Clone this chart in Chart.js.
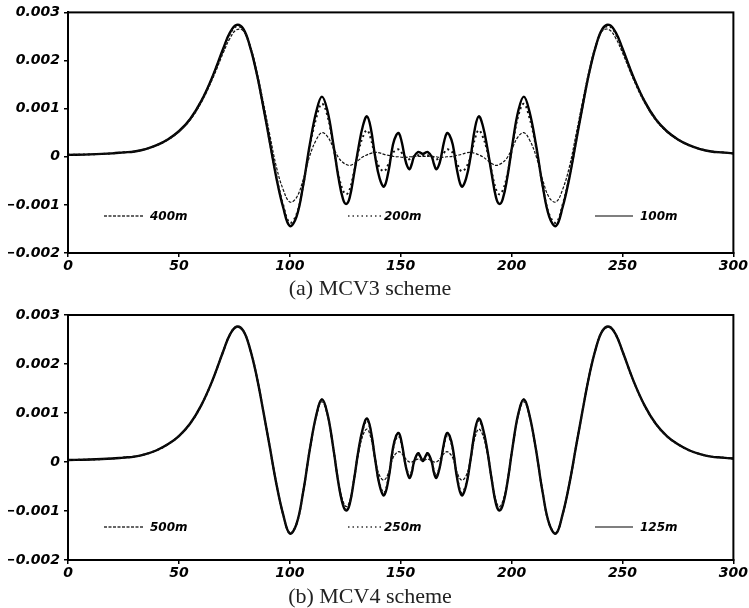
<!DOCTYPE html>
<html>
<head>
<meta charset="utf-8">
<script src="https://cdn.jsdelivr.net/npm/chart.js@4.4.1/dist/chart.umd.min.js"></script>
<style>
  html, body { margin: 0; padding: 0; background: #fff; }
  #wrap { position: relative; width: 749px; height: 608px; }
  canvas { position: absolute; left: 0; }
</style>
</head>
<body>
<div id="wrap">
  <canvas id="c1" width="749" height="300" style="top:0px"></canvas>
  <canvas id="c2" width="749" height="308" style="top:300px"></canvas>
</div>
<script>
// x positions (grid points along the domain)
const xs = [0,10,20,25,30,35,40,45,50,55,60,65,70,73,76,79,82,85,88,91,94,97,100,103,106,109,112,114.5,117,119.5,122,124,125.5,127,129,131,133,134.8,136.5,138.5,140.5,142.5,144.5,146.5,148,149.2,150.5,152,153,154,155,156,157.8,159,160,
161,162.2,164,165,166,167,168,169.5,170.8,172,173.5,175.5,177.5,179.5,181.5,183.5,185.2,187,189,191,193,194.5,196,198,200.5,203,205.5,208,211,214,217,220,223,226,229,232,235,238,241,244,247,250,255,260,265,270,275,280,285,290,295,300];

// values in units of 1e-3
// (a) MCV3 scheme
const mcv3_400m = [0.04,0.05,0.07,0.09,0.11,0.16,0.24,0.35,0.52,0.76,1.12,1.60,2.16,2.46,2.64,2.62,2.32,1.80,1.15,0.45,-0.22,-0.68,-0.94,-0.85,-0.48,0.02,0.36,0.50,0.42,0.20,-0.02,-0.12,-0.16,-0.18,-0.14,-0.07,0.00,0.04,0.07,0.09,0.08,0.05,0.03,0.01,0.00,0.00,-0.01,-0.01,-0.01,0.00,0.00,0.01,0.01,0.01,0.01,
0.01,0.01,0.01,0.00,0.00,-0.01,-0.01,-0.01,0.00,0.00,0.01,0.03,0.05,0.08,0.09,0.07,0.04,0.00,-0.07,-0.14,-0.18,-0.16,-0.12,-0.02,0.20,0.42,0.50,0.36,0.02,-0.48,-0.85,-0.94,-0.68,-0.22,0.45,1.15,1.80,2.32,2.62,2.64,2.46,2.16,1.60,1.12,0.76,0.52,0.35,0.24,0.16,0.11,0.09,0.07];
const mcv3_200m = [0.04,0.05,0.07,0.09,0.11,0.16,0.24,0.36,0.53,0.78,1.15,1.64,2.23,2.55,2.71,2.64,2.30,1.75,1.05,0.30,-0.42,-1.00,-1.37,-1.20,-0.60,0.20,0.82,1.10,0.85,0.25,-0.38,-0.70,-0.78,-0.68,-0.30,0.12,0.42,0.55,0.38,0.00,-0.22,-0.30,-0.15,0.08,0.14,0.15,0.08,0.00,-0.04,-0.05,-0.02,0.01,0.03,0.03,0.03,
0.03,0.03,0.01,-0.02,-0.05,-0.04,0.00,0.08,0.15,0.14,0.08,-0.15,-0.30,-0.22,0.00,0.38,0.55,0.42,0.12,-0.30,-0.68,-0.78,-0.70,-0.38,0.25,0.85,1.10,0.82,0.20,-0.60,-1.20,-1.37,-1.00,-0.42,0.30,1.05,1.75,2.30,2.64,2.71,2.55,2.23,1.64,1.15,0.78,0.53,0.36,0.24,0.16,0.11,0.09,0.07];
const mcv3_100m = [0.04,0.05,0.07,0.09,0.11,0.16,0.24,0.36,0.53,0.78,1.15,1.65,2.25,2.58,2.74,2.66,2.30,1.75,1.05,0.30,-0.45,-1.05,-1.44,-1.25,-0.60,0.25,0.95,1.25,0.95,0.30,-0.45,-0.88,-0.98,-0.85,-0.35,0.20,0.65,0.84,0.60,0.00,-0.45,-0.62,-0.30,0.25,0.45,0.49,0.30,-0.05,-0.20,-0.26,-0.15,0.00,0.10,0.08,0.06,
0.08,0.10,0.00,-0.15,-0.26,-0.20,-0.05,0.30,0.49,0.45,0.25,-0.30,-0.62,-0.45,0.00,0.60,0.84,0.65,0.20,-0.35,-0.85,-0.98,-0.88,-0.45,0.30,0.95,1.25,0.95,0.25,-0.60,-1.25,-1.44,-1.05,-0.45,0.30,1.05,1.75,2.30,2.66,2.74,2.58,2.25,1.65,1.15,0.78,0.53,0.36,0.24,0.16,0.11,0.09,0.07];

// (b) MCV4 scheme
const mcv4_500m = [0.04,0.05,0.07,0.09,0.11,0.16,0.24,0.36,0.53,0.78,1.15,1.65,2.26,2.60,2.76,2.68,2.32,1.76,1.05,0.30,-0.46,-1.07,-1.45,-1.26,-0.62,0.24,0.94,1.23,0.94,0.30,-0.42,-0.80,-0.91,-0.80,-0.35,0.18,0.55,0.67,0.50,0.05,-0.28,-0.37,-0.22,0.08,0.18,0.21,0.17,0.08,0.03,0.00,0.00,0.02,0.06,0.04,0.02,
0.04,0.06,0.02,0.00,0.00,0.03,0.08,0.17,0.21,0.18,0.08,-0.22,-0.37,-0.28,0.05,0.50,0.67,0.55,0.18,-0.35,-0.80,-0.91,-0.80,-0.42,0.30,0.94,1.23,0.94,0.24,-0.62,-1.26,-1.45,-1.07,-0.46,0.30,1.05,1.76,2.32,2.68,2.76,2.60,2.26,1.65,1.15,0.78,0.53,0.36,0.24,0.16,0.11,0.09,0.07];
const mcv4_250m = [0.04,0.05,0.07,0.09,0.11,0.16,0.24,0.36,0.53,0.78,1.15,1.65,2.26,2.60,2.76,2.68,2.32,1.76,1.05,0.30,-0.46,-1.07,-1.46,-1.27,-0.62,0.25,0.96,1.27,0.97,0.32,-0.44,-0.86,-0.97,-0.84,-0.34,0.24,0.67,0.85,0.62,0.05,-0.45,-0.63,-0.32,0.25,0.49,0.53,0.34,-0.02,-0.19,-0.29,-0.19,0.00,0.15,0.09,0.03,
0.09,0.15,0.00,-0.19,-0.29,-0.19,-0.02,0.34,0.53,0.49,0.25,-0.32,-0.63,-0.45,0.05,0.62,0.85,0.67,0.24,-0.34,-0.84,-0.97,-0.86,-0.44,0.32,0.97,1.27,0.96,0.25,-0.62,-1.27,-1.46,-1.07,-0.46,0.30,1.05,1.76,2.32,2.68,2.76,2.60,2.26,1.65,1.15,0.78,0.53,0.36,0.24,0.16,0.11,0.09,0.07];
const mcv4_125m = [0.04,0.05,0.07,0.09,0.11,0.16,0.24,0.36,0.53,0.78,1.15,1.65,2.26,2.60,2.76,2.68,2.32,1.76,1.05,0.30,-0.46,-1.07,-1.46,-1.27,-0.62,0.25,0.97,1.28,0.98,0.32,-0.45,-0.88,-0.99,-0.86,-0.35,0.25,0.70,0.89,0.65,0.05,-0.48,-0.68,-0.35,0.28,0.54,0.59,0.38,-0.02,-0.22,-0.33,-0.22,0.00,0.18,0.10,0.02,
0.10,0.18,0.00,-0.22,-0.33,-0.22,-0.02,0.38,0.59,0.54,0.28,-0.35,-0.68,-0.48,0.05,0.65,0.89,0.70,0.25,-0.35,-0.86,-0.99,-0.88,-0.45,0.32,0.98,1.28,0.97,0.25,-0.62,-1.27,-1.46,-1.07,-0.46,0.30,1.05,1.76,2.32,2.68,2.76,2.60,2.26,1.65,1.15,0.78,0.53,0.36,0.24,0.16,0.11,0.09,0.07];

const xTicks = [0, 50, 100, 150, 200, 250, 300];
const yTicks = [-0.002, -0.001, 0, 0.001, 0.002, 0.003];
const captionA = '(a) MCV3 scheme';
const captionB = '(b) MCV4 scheme';
const labelsA = ['400m', '200m', '100m'];
const labelsB = ['500m', '250m', '125m'];

const STYLES = [
  { borderWidth: 1.2, borderDash: [3, 1.5], color: '#111' },
  { borderWidth: 2, borderDash: [2, 3], color: '#111' },
  { borderWidth: 2.4, borderDash: [], color: '#000' }
];

function pts(arr) { return xs.map((x, i) => ({ x: x, y: arr[i] * 1e-3 })); }

const TICK_FONT = { family: 'DejaVu Sans', size: 14, style: 'italic', weight: 'bold' };

function fmtY(v) {
  if (Math.abs(v) < 1e-9) return '0';
  const s = Math.abs(v).toFixed(3);
  return (v < 0 ? '\u2212' : '') + s;
}

const framePlugin = {
  id: 'frame',
  afterDraw(chart, args, opts) {
    const { ctx, chartArea: a } = chart;
    ctx.save();
    ctx.strokeStyle = '#000';
    ctx.lineWidth = 2;
    ctx.strokeRect(a.left, a.top, a.right - a.left, a.bottom - a.top);
    // legend
    const ly = opts.legendY;
    const items = opts.items;
    const lx = [[104, 143, 150], [348, 381, 384], [595, 633, 640]];
    items.forEach((lab, i) => {
      ctx.beginPath();
      ctx.setLineDash(i === 0 ? [3, 1.5] : (i === 1 ? [1.5, 3] : []));
      ctx.lineWidth = i === 2 ? 1.4 : 1.3;
      ctx.strokeStyle = i === 2 ? '#555' : '#333';
      ctx.moveTo(lx[i][0], ly);
      ctx.lineTo(lx[i][1], ly);
      ctx.stroke();
      ctx.setLineDash([]);
      ctx.fillStyle = '#000';
      ctx.font = 'italic bold 12px "DejaVu Sans"';
      ctx.textAlign = 'left';
      ctx.textBaseline = 'middle';
      ctx.fillText(lab, lx[i][2], ly + 1);
    });
    // caption
    ctx.font = '22px "Liberation Serif"';
    ctx.fillStyle = '#222';
    ctx.textAlign = 'center';
    ctx.textBaseline = 'middle';
    ctx.fillText(opts.caption, 370, opts.captionY);
    ctx.restore();
  }
};

function makeChart(id, series, topPad, xAxisH, legendY, items, caption, captionY) {
  return new Chart(document.getElementById(id), {
    type: 'line',
    data: {
      datasets: series.map((s, i) => ({
        data: pts(s),
        borderColor: STYLES[i].color,
        borderWidth: STYLES[i].borderWidth,
        borderDash: STYLES[i].borderDash,
        pointRadius: 0,
        tension: 0.4,
        fill: false
      }))
    },
    options: {
      responsive: false,
      animation: false,
      devicePixelRatio: 1,
      layout: { padding: { left: 8, right: 15, top: topPad, bottom: 0 } },
      plugins: {
        legend: { display: false },
        tooltip: { enabled: false },
        frame: { legendY: legendY, items: items, caption: caption, captionY: captionY }
      },
      scales: {
        x: {
          type: 'linear', min: 0, max: 300,
          afterBuildTicks(scale) { scale.ticks = xTicks.map(v => ({ value: v })); },
          afterFit(scale) { scale.height = xAxisH; },
          ticks: { color: '#000', font: TICK_FONT, padding: 1, maxRotation: 0 },
          grid: { display: true, drawOnChartArea: false, drawTicks: true, tickLength: 4, color: '#000', lineWidth: 1.5 },
          border: { display: true, color: '#000', width: 2 }
        },
        y: {
          type: 'linear', min: -0.002, max: 0.003,
          afterBuildTicks(scale) { scale.ticks = yTicks.map(v => ({ value: v })); },
          afterFit(scale) { scale.width = 60; },
          ticks: { color: '#000', font: TICK_FONT, padding: 4, callback: fmtY },
          grid: { display: true, drawOnChartArea: false, drawTicks: true, tickLength: 4, color: '#000', lineWidth: 1.5 },
          border: { display: true, color: '#000', width: 2 }
        }
      }
    },
    plugins: [framePlugin]
  });
}

makeChart('c1', [mcv3_400m, mcv3_200m, mcv3_100m], 7, 47, 216, labelsA, captionA, 289);
makeChart('c2', [mcv4_500m, mcv4_250m, mcv4_125m], 15, 48, 227, labelsB, captionB, 297);
</script>
</body>
</html>
